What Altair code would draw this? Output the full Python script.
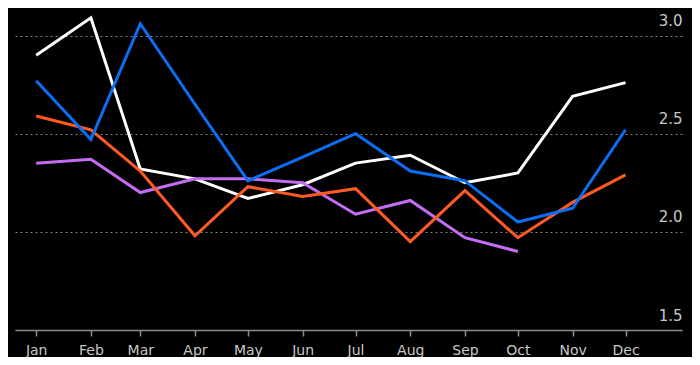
import altair as alt
import pandas as pd

months = ["2019-01-01", "2019-02-01", "2019-03-01", "2019-04-01", "2019-05-01", "2019-06-01",
          "2019-07-01", "2019-08-01", "2019-09-01", "2019-10-01", "2019-11-01", "2019-12-01"]

white_vals = [2.90, 3.09, 2.32, 2.27, 2.17, 2.24, 2.35, 2.39, 2.25, 2.30, 2.69, 2.76]
purple_vals = [2.35, 2.37, 2.20, 2.27, 2.27, 2.25, 2.09, 2.16, 1.97, 1.90]
orange_vals = [2.59, 2.52, 2.31, 1.98, 2.23, 2.18, 2.22, 1.95, 2.21, 1.97, 2.15, 2.29]
blue_vals = [2.77, 2.47, 3.06, 2.65, 2.26, 2.38, 2.50, 2.31, 2.26, 2.05, 2.12, 2.52]

series_names = ["White", "Purple", "Orange", "Blue"]
series_values = [white_vals, purple_vals, orange_vals, blue_vals]
series_colors = ["#ffffff", "#c46cf2", "#ff5a24", "#0a6ff5"]

y_ticks = [1.5, 2.0, 2.5, 3.0]
x_domain = ["2018-12-20", "2020-01-02"]

rows = []
for k, (name, vals) in enumerate(zip(series_names, series_values)):
    for d, v in zip(months, vals):
        rows.append({"date": d, "value": v, "series": name, "k": k})
df = pd.DataFrame(rows)

to_ms = lambda s: int(pd.Timestamp(s, tz="UTC").value // 10**6)

x_scale = alt.Scale(type="utc", domain=[to_ms(s) for s in x_domain])
y_scale = alt.Scale(domain=[1.5, 3.13], nice=False, zero=False)

x_axis = alt.Axis(
    title=None,
    values=[to_ms(m) for m in months],
    labelExpr="utcFormat(datum.value, '%b')",
    labelOverlap=False,
    grid=False,
    domainColor="#8c8c8c",
    domainWidth=1.5,
    tickColor="#8c8c8c",
    tickSize=6,
    tickWidth=1.5,
    labelColor="#c8c8c8",
    labelFontSize=14,
    labelFont="DejaVu Sans",
    labelPadding=7,
)

y_axis = alt.Axis(
    title=None,
    orient="right",
    values=y_ticks,
    format=".1f",
    domain=False,
    ticks=False,
    grid=True,
    gridColor="#858585",
    gridDash=[2, 3],
    gridWidth=1,
    labelAlign="right",
    labelBaseline="alphabetic",
    labelOffset=-10,
    labelPadding=0,
    labelColor="#c8c8c8",
    labelFontSize=15,
    labelFont="DejaVu Sans",
)

chart = alt.Chart(df).mark_line(strokeWidth=3, strokeJoin="miter", strokeCap="butt").encode(
    x=alt.X("date:T", scale=x_scale, axis=x_axis),
    y=alt.Y("value:Q", scale=y_scale, axis=y_axis),
    color=alt.Color("series:N", scale=alt.Scale(domain=series_names, range=series_colors), legend=None),
    detail="k:O",
).properties(
    width=667,
    height=320,
    background="#000000",
    padding={"left": 7, "top": 2, "right": 10, "bottom": 27},
    autosize=alt.AutoSizeParams(type="none"),
).configure_view(stroke=None)

chart.save("out.html", embed_options={"renderer": "svg", "actions": False})
